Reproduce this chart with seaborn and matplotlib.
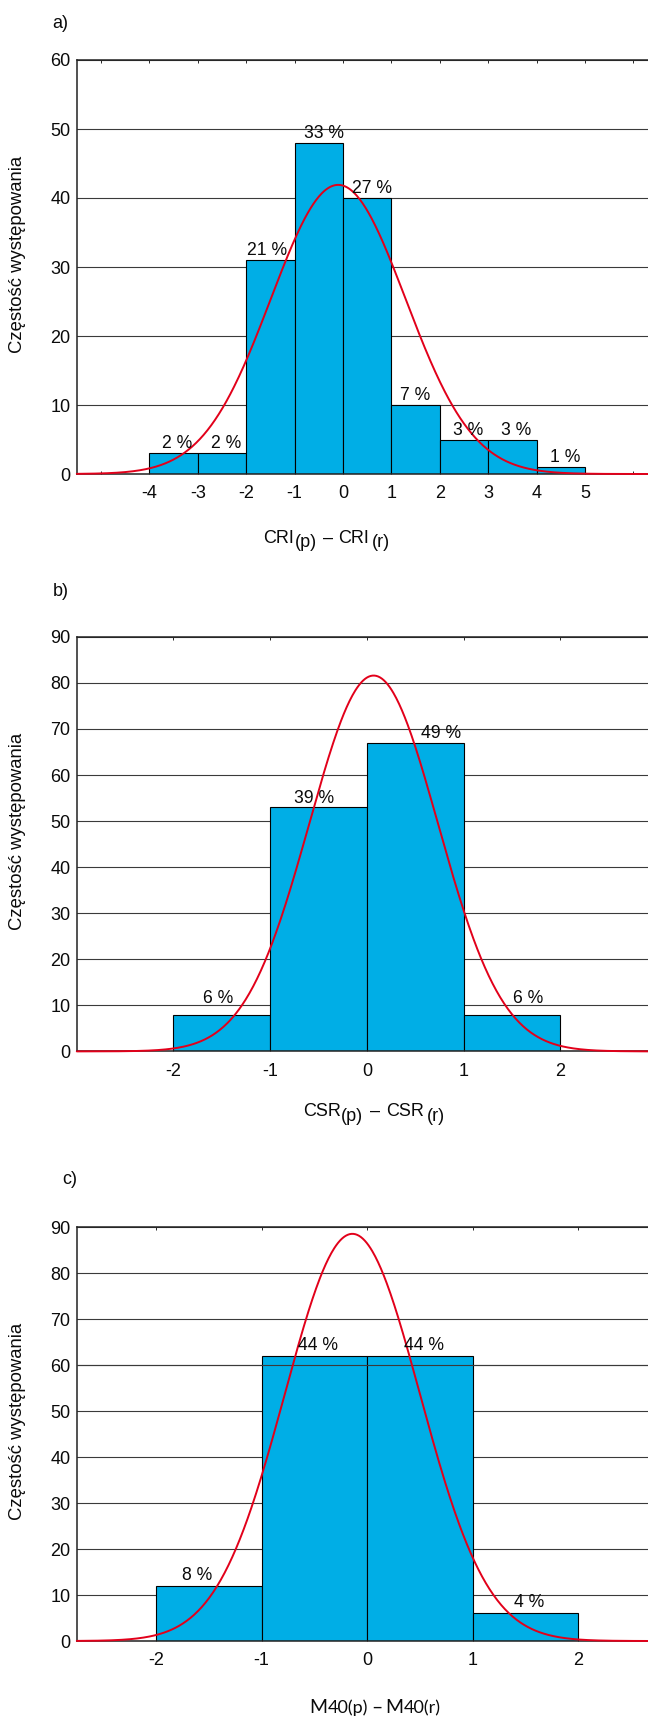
import numpy as np
import pandas as pd
import seaborn as sns
import matplotlib.pyplot as plt
import matplotlib.transforms as mtransforms

# Dane: granice klas i liczebności dla trzech histogramów
edges_a = [-4, -3, -2, -1, 0, 1, 2, 3, 4, 5]
counts_a = [3, 3, 31, 48, 40, 10, 5, 5, 1]
ticks_a = [-5, -4, -3, -2, -1, 0, 1, 2, 3, 4, 5, 6]
ticklabels_a = ['', '-4', '-3', '-2', '-1', '0', '1', '2', '3', '4', '5', '']
fit_a = (-0.10, 1.39)          # średnia, odchylenie dopasowanego rozkładu normalnego

edges_b = [-2, -1, 0, 1, 2]
counts_b = [8, 53, 67, 8]
ticks_b = [-2, -1, 0, 1, 2]
ticklabels_b = ['-2', '-1', '0', '1', '2']
fit_b = (0.07, 0.665)

edges_c = [-2, -1, 0, 1, 2]
counts_c = [12, 62, 62, 6]
ticks_c = [-2, -1, 0, 1, 2]
ticklabels_c = ['-2', '-1', '0', '1', '2']
fit_c = (-0.14, 0.64)

BAR = '#00AEE6'
RED = '#E2001A'
GRID = '#3a3a3a'
TXT = '#0a0a0a'
FONT = ['Liberation Sans', 'DejaVu Sans']

sns.set_style('white')
plt.rcParams['font.family'] = FONT

W, H = 648, 1719
fig = plt.figure(figsize=(W / 100, H / 100), dpi=100)
fig.patch.set_facecolor('white')


def px_axes(left, top, bottom):
    return fig.add_axes([left / W, 1 - bottom / H, (W - left) / W, (bottom - top) / H])


def draw_hist(ax, edges, counts, fit, xlim, ylim, yticks, ticks, ticklabels, lab_dx, lab_dy):
    df = pd.DataFrame({'mid': [(a + b) / 2 for a, b in zip(edges[:-1], edges[1:])],
                       'n': counts})
    sns.histplot(data=df, x='mid', weights='n', bins=list(edges), ax=ax, color=BAR,
                 edgecolor='black', linewidth=0.8, alpha=1, stat='count')
    n = df['n'].sum()
    bw = edges[1] - edges[0]
    xs = np.linspace(xlim[0], xlim[1], 600)
    mu, sd = fit
    ys = n * bw * np.exp(-0.5 * ((xs - mu) / sd) ** 2) / (sd * np.sqrt(2 * np.pi))
    sns.lineplot(x=xs, y=ys, ax=ax, color=RED, linewidth=1.4, zorder=4)
    for line in ax.lines:
        line.set_clip_on(False)

    for c, cnt, dx, dy in zip(df['mid'], df['n'], lab_dx, lab_dy):
        ax.annotate(f'{round(100 * cnt / n):.0f} %', (c, cnt), xytext=(dx, dy),
                    textcoords='offset pixels', ha='center', va='baseline',
                    fontsize=12.7, color=TXT, zorder=5)

    ax.set_xlim(*xlim)
    ax.set_ylim(*ylim)
    ax.set_yticks(yticks)
    ax.set_xticks(ticks)
    ax.set_xticklabels(ticklabels)
    ax.set_xlabel('')
    ax.set_ylabel('Częstość występowania', fontsize=13.3, color=TXT)
    ax.yaxis.set_label_coords(-0.0896, 0.53)
    ax.yaxis.grid(True, color=GRID, linewidth=0.8)
    ax.set_axisbelow(True)
    ax.tick_params(axis='x', which='both', direction='in', top=True, bottom=True,
                   length=2.5, width=0.7, pad=8, labelsize=13, labelcolor=TXT)
    ax.tick_params(axis='y', length=0, pad=4.5, labelsize=13, labelcolor=TXT)
    ax.spines['right'].set_visible(False)
    for s in ['left', 'top', 'bottom']:
        ax.spines[s].set_linewidth(1.1)
        ax.spines[s].set_color('#222222')


def composite_label(parts, cx, base_y, family):
    # parts: (tekst, obniżenie w px, odstęp przed w px, rozmiar)
    r = fig.canvas.get_renderer()
    items = []
    total = 0
    for s, drop, gap, size in parts:
        t = fig.text(0, 0, s, fontsize=size, family=family, ha='left', va='baseline',
                     color=TXT, transform=mtransforms.IdentityTransform())
        w = t.get_window_extent(r).width
        items.append((t, w, drop, gap))
        total += w + gap
    x = cx - total / 2
    for t, w, drop, gap in items:
        x += gap
        t.set_position((x, H - base_y - drop))
        x += w


# a)
ax_a = px_axes(76.8, 60, 474)
draw_hist(ax_a, edges_a, counts_a, fit_a, (-5.5, 6.3), (0, 60), range(0, 61, 10),
          ticks_a, ticklabels_a,
          [3.8, 3.9, -3, 4.7, 4.4, -0.6, 3.7, 3.6, 4], [5, 5, 5.5, 5, 5, 5.2, 5, 5, 5])

# b)
ax_b = px_axes(76.8, 636.8, 1051.4)
draw_hist(ax_b, edges_b, counts_b, fit_b, (-3.0, 2.908), (0, 90), range(0, 91, 10),
          ticks_b, ticklabels_b, [-3.3, -4, 26, 16.6], [11.8, 4.6, 5, 11.8])

# c)
ax_c = px_axes(76.8, 1227, 1641)
draw_hist(ax_c, edges_c, counts_c, fit_c, (-2.75, 2.66), (0, 90), range(0, 91, 10),
          ticks_c, ticklabels_c, [-11.6, 3.8, 4.5, 3.5], [6.1, 5.7, 5.7, 6.1])
# linia siatki 60 przechodzi nad słupkami w oryginale
ax_c.axhline(60, color=GRID, linewidth=0.8, zorder=3)

for lab, x, y in [('a)', 52.7, 23.3), ('b)', 52.7, 591.7), ('c)', 62, 1179)]:
    fig.text(x, H - y, lab, fontsize=13, ha='left', va='center', color=TXT,
             transform=mtransforms.IdentityTransform())

composite_label([('CRI', 0, 0, 13), ('(p)', 4, 0.5, 13), ('–', 0, 6, 13),
                 ('CRI', 0, 5, 13), ('(r)', 4, 3, 13)], 326.5, 542.7, FONT)
composite_label([('CSR', 0, 0, 13), ('(p)', 5, 0.5, 13), ('–', 0, 7, 13),
                 ('CSR', 0, 6, 13), ('(r)', 5, 3, 13)], 374, 1116, FONT)
composite_label([('M', 0, 0, 14), ('40(p)', 0, 0.5, 13), ('–', 0, 3, 14),
                 ('M', 0, 3, 14), ('40(r)', 0, 0.5, 13)], 375, 1713, ['Lato', 'DejaVu Sans'])

fig.savefig('out.png', dpi=100, facecolor='white')
